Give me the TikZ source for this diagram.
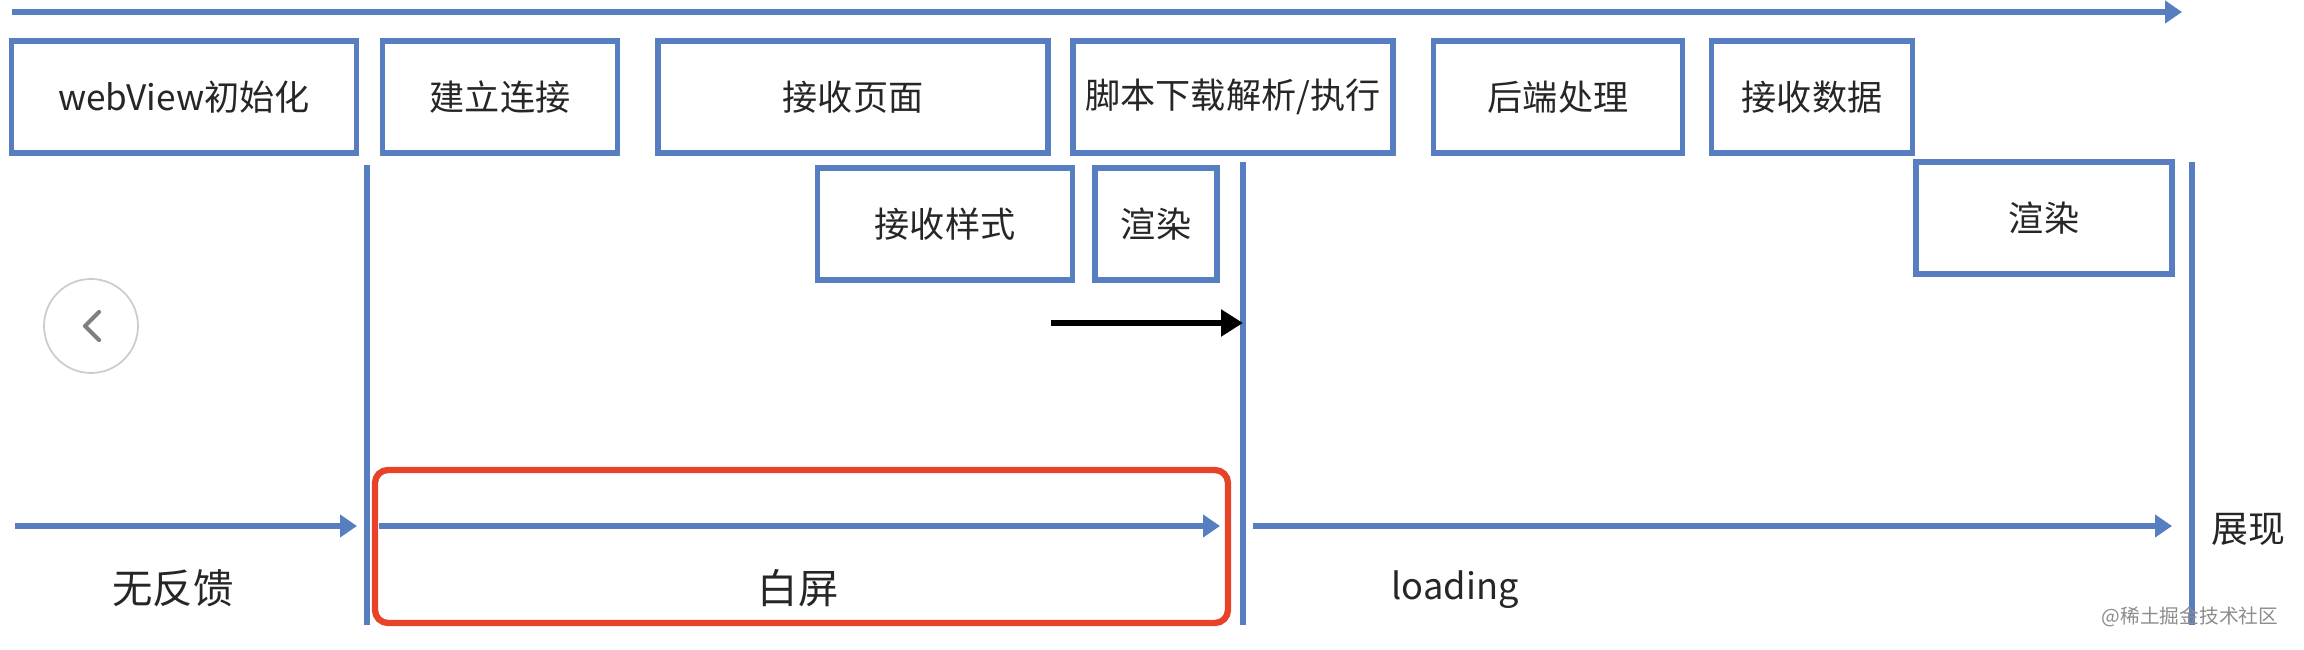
\documentclass[tikz,border=0pt]{standalone}
\usepackage{fontspec}
\setmainfont{Noto Sans CJK SC}
\usetikzlibrary{arrows.meta, positioning}
\usepackage{xcolor}

\definecolor{lineblue}{RGB}{86,126,192}
\definecolor{framered}{RGB}{232,66,40}

\tikzset{
  stage/.style={draw=lineblue, line width=1.6pt, minimum height=11.2mm, inner sep=0pt,
    font=\fontsize{10}{12}\selectfont, text=black!85},
  flow/.style={lineblue, line width=1.5pt, -{Triangle[length=1.7mm, width=2.2mm]}},
  bar/.style={lineblue, line width=1.5pt},
  caption/.style={font=\fontsize{11.5}{13}\selectfont, text=black!85}
}

\begin{document}
\begin{tikzpicture}[x=0.1mm, y=-0.1mm]
  \useasboundingbox (0,0) rectangle (2304,650);

  % main timeline
  \coordinate (t0) at (12,12);
  \coordinate (t1) at (2182,12);
  \draw[flow] (t0) -- (t1);

  % first row
  \node[stage, minimum width=34.5mm] (init) at (184,97) {webView初始化};
  \node[stage, minimum width=23.5mm] (conn) at (500,97) {建立连接};
  \node[stage, minimum width=39mm] (page) at (853,97) {接收页面};
  \node[stage, minimum width=32mm] (script) at (1233,97) {脚本下载解析/执行};
  \node[stage, minimum width=24.9mm] (backend) at (1558,97) {后端处理};
  \node[stage, minimum width=20.1mm] (data) at (1812,97) {接收数据};

  % second row
  \node[stage, minimum width=25.5mm] (style) at (945,224) {接收样式};
  \node[stage, minimum width=12.2mm] (paint) at (1156,224) {渲染};
  \node[stage, minimum width=25.6mm] (repaint) at (2044,218) {渲染};

  % phase borders
  \foreach \x/\y [count=\k] in {367/165, 1243/162, 2192/162} {
    \coordinate (top\k) at (\x,\y);
    \coordinate (bot\k) at (\x,625);
    \draw[bar] (top\k) -- (bot\k);
  }

  % white screen frame
  \node[draw=framered, line width=1.8pt, rounded corners=1.3mm,
    minimum width=85.3mm, minimum height=15.3mm] (blank) at (801.5,546.5) {};

  % phase arrows
  \coordinate (p0) at (15,526);
  \coordinate (p1) at (357,526);
  \coordinate (p2) at (379,526);
  \coordinate (p3) at (1220,526);
  \coordinate (p4) at (1253,526);
  \coordinate (p5) at (2172,526);
  \draw[flow] (p0) -- (p1);
  \draw[flow] (p2) -- (p3);
  \draw[flow] (p4) -- (p5);

  \coordinate (jump) at (1051,323);
  \draw[black, line width=1.5pt, -{Triangle[length=2.2mm, width=2.6mm]}] (jump) -- (top2 |- jump);

  \node[caption] (nofeed) at (173,588) {无反馈};
  \node[caption] (white) at (798,588) {白屏};
  \node[font=\fontsize{10.3}{12}\selectfont, text=black!85] (load) at (1455,590) {loading};
  \node[font=\fontsize{10.5}{12}\selectfont, text=black!85] (show) at (2248,529) {展现};

  % page overlay
  \node[circle, draw=black!20, line width=0.5pt, minimum size=9.4mm] (back) at (91,326) {};
  \draw[black!50, line width=1.2pt, line cap=round, line join=round]
    ([xshift=0.8mm, yshift=1.4mm]back.center) -- ([xshift=-0.6mm]back.center) -- ([xshift=0.8mm, yshift=-1.4mm]back.center);
  \node[font=\fontsize{5.6}{7}\selectfont, text=black!45] (mark) at (2190,617) {@稀土掘金技术社区};
\end{tikzpicture}
\end{document}
